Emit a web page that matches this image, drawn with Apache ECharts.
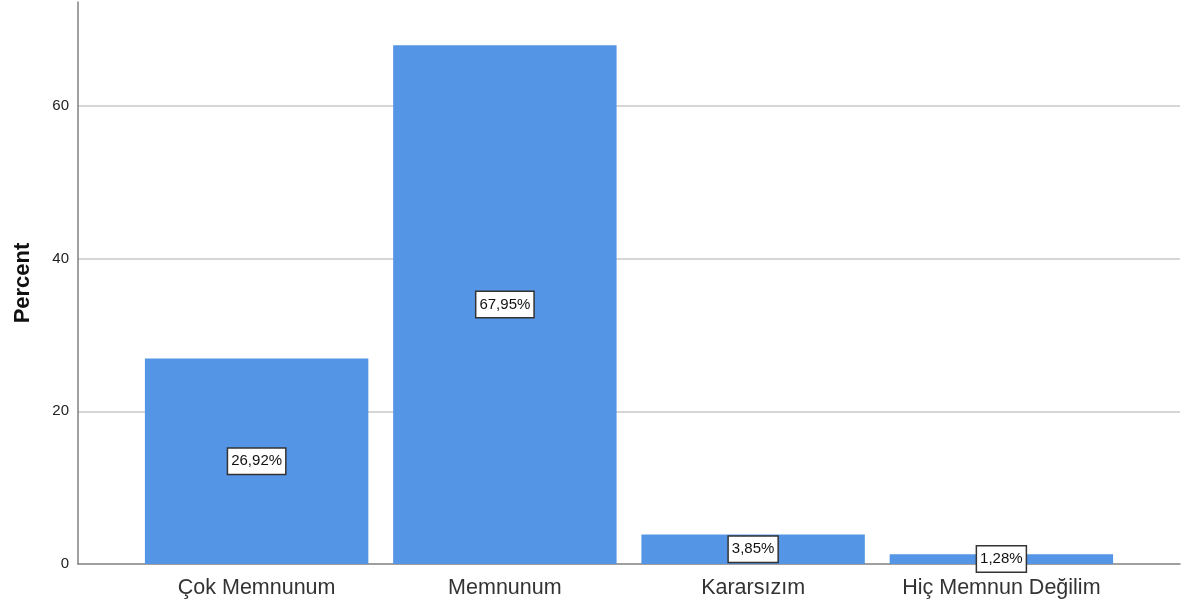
<!DOCTYPE html>
<html>
<head>
<meta charset="utf-8">
<script src="https://cdn.jsdelivr.net/npm/echarts@6/dist/echarts.min.js"></script>
<style>html,body{margin:0;padding:0;background:#fff;}#c{width:1181px;height:606px;}</style>
</head>
<body>
<div id="c"></div>
<script>
const categories = ['Çok Memnunum', 'Memnunum', 'Kararsızım', 'Hiç Memnun Değilim'];
const percents = [26.92, 67.95, 3.85, 1.28];
const yTicks = [0, 20, 40, 60];
const yMax = 73.6;

const chart = echarts.init(document.getElementById('c'), null, {renderer: 'canvas'});
const font = 'Arial, "Liberation Sans", sans-serif';
chart.setOption({
  animation: false,
  backgroundColor: '#fff',
  grid: [
    {left: 78, right: 1, top: 2, bottom: 42, containLabel: false, outerBoundsMode: 'none'},
    {left: 132.5, right: 55.5, top: 2, bottom: 42, containLabel: false, outerBoundsMode: 'none'}
  ],
  xAxis: [
    {gridIndex: 0, type: 'category', data: [''],
     axisLine: {show: true, lineStyle: {color: '#808080', width: 1.5}},
     axisTick: {show: false}, axisLabel: {show: false}, splitLine: {show: false}},
    {gridIndex: 1, type: 'category', data: categories,
     axisLine: {show: false}, axisTick: {show: false},
     axisLabel: {interval: 0, fontFamily: font, fontSize: 21.5, color: '#333', margin: 13}}
  ],
  yAxis: [
    {gridIndex: 0, type: 'value', min: 0, max: yMax, interval: 20,
     name: 'Percent', nameLocation: 'middle', nameRotate: 90, nameGap: 44,
     nameTextStyle: {fontFamily: font, fontSize: 22, fontWeight: 'bold', color: '#111'},
     axisLine: {show: true, lineStyle: {color: '#808080', width: 1.5}},
     axisTick: {show: false},
     axisLabel: {fontFamily: font, fontSize: 15, color: '#222', margin: 9, showMaxLabel: false,
       formatter: v => yTicks.indexOf(v) >= 0 ? String(v) : ''},
     splitLine: {show: true, showMinLine: false, showMaxLine: false, lineStyle: {color: '#c8c8c8', width: 1.5}}},
    {gridIndex: 1, type: 'value', min: 0, max: yMax, interval: 20, show: false,
     splitLine: {show: false}}
  ],
  series: [{
    type: 'bar', xAxisIndex: 1, yAxisIndex: 1,
    data: percents, barCategoryGap: '10%',
    itemStyle: {color: '#5595e5'},
    label: {show: true, position: 'inside',
      formatter: p => p.value.toFixed(2).replace('.', ',') + '%',
      fontFamily: font, fontSize: 15, color: '#111',
      backgroundColor: '#fff', borderColor: '#333', borderWidth: 1.5,
      padding: [4, 3, 4, 3], lineHeight: 17}
  }]
});
</script>
</body>
</html>
